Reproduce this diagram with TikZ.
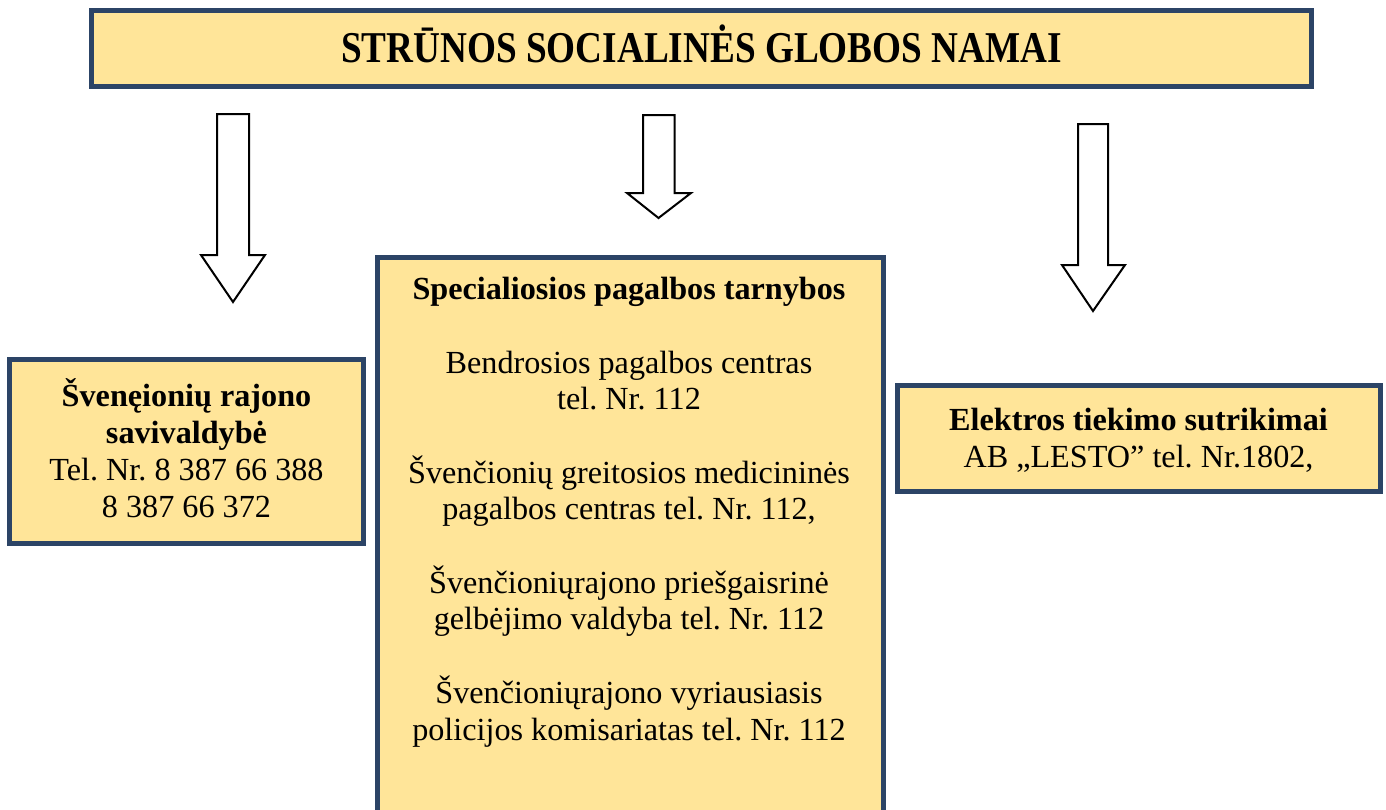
\documentclass[tikz,border=0pt]{standalone}
\usepackage{fontspec}
\setmainfont{Liberation Serif}
\frenchspacing
\definecolor{navy}{RGB}{44,68,102}
\definecolor{gold}{RGB}{255,229,153}
\tikzset{
  box/.style={draw=navy, fill=gold, line width=5pt, rectangle, inner sep=0pt, outer sep=0pt},
  txt/.style={anchor=base, align=center, inner sep=0pt, font=\fontsize{32.2}{36.7}\selectfont\frenchspacing},
  bigarrow/.style={draw=black, fill=white, line width=2pt, line join=miter}
}
\begin{document}
\begin{tikzpicture}[x=1pt,y=-1pt]
\useasboundingbox (0,0) rectangle (1386,809);
\fill[white] (0,0) rectangle (1386,809);
\begin{scope}
\clip (0,0) rectangle (1386,809);
% boxes
\node[box, minimum width=1220pt, minimum height=76pt] (top) at (701.5,48.5) {};
\node[box, minimum width=354pt, minimum height=184pt] (left) at (186.5,451.5) {};
\node[box, minimum width=506pt, minimum height=592.5pt] (mid) at (630.5,553.75) {};
\node[box, minimum width=483.5pt, minimum height=106pt] (right) at (1138.75,438.5) {};
\end{scope}
% texts (base anchor = baseline of the last line)
\node[anchor=base, inner sep=0pt, font=\fontsize{44}{50}\selectfont\bfseries] (ttl) at (701.5,62.7)
  {\scalebox{0.846}[1]{STRŪNOS SOCIALINĖS GLOBOS NAMAI}};
\node[txt] (lefttxt) at (186.5,517)
  {\textbf{Švenęionių rajono}\\ \textbf{savivaldybė}\\ Tel. Nr. 8 387 66 388\\ 8 387 66 372};
\node[txt] (midtxt) at (629,740)
  {\textbf{Specialiosios pagalbos tarnybos}\\[36.7pt]
   Bendrosios pagalbos centras\\ tel. Nr. 112\\[36.7pt]
   Švenčionių greitosios medicininės\\ pagalbos centras tel. Nr. 112,\\[36.7pt]
   Švenčioniųrajono priešgaisrinė\\ gelbėjimo valdyba tel. Nr. 112\\[36.7pt]
   Švenčioniųrajono vyriausiasis\\ policijos komisariatas tel. Nr. 112};
\node[txt] (righttxt) at (1138.5,467)
  {\textbf{Elektros tiekimo sutrikimai}\\ AB „LESTO” tel. Nr.1802,};
% arrows
\coordinate (a1) at (233,114);
\coordinate (a2) at (658.5,115);
\coordinate (a3) at (1093,124);
\draw[bigarrow] (a1) ++(-16,0) -- ++(0,141) -- ++(-16,0) -- (233,302) -- (265,255) -- ++(-16,0) -- ++(0,-141) -- cycle;
\draw[bigarrow] (a2) ++(-15.5,0) -- ++(0,78) -- ++(-16,0) -- (658.5,218) -- (691,193) -- ++(-16.5,0) -- ++(0,-78) -- cycle;
\draw[bigarrow] (a3) ++(-15,0) -- ++(0,141) -- ++(-16,0) -- (1093,311) -- (1125,265) -- ++(-17,0) -- ++(0,-141) -- cycle;
\end{tikzpicture}
\end{document}
